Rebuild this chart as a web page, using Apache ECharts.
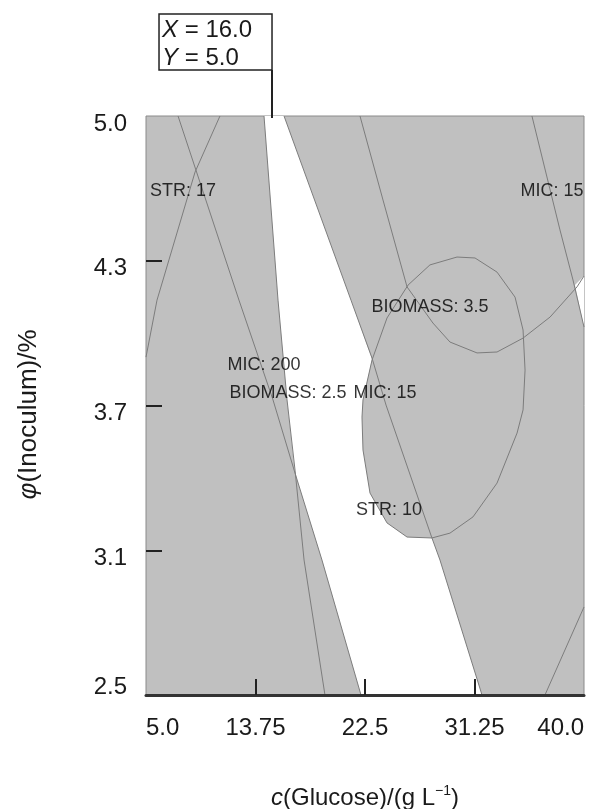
<!DOCTYPE html>
<html>
<head>
<meta charset="utf-8">
<script src="https://cdn.jsdelivr.net/npm/echarts@6/dist/echarts.min.js"></script>
<style>
  html, body { margin: 0; padding: 0; background: #fff; }
  #main { width: 599px; height: 809px; }
</style>
</head>
<body>
<div id="main"></div>
<script>
// 坐标轴刻度
const xTicks = [5, 13.75, 22.5, 31.25, 40];
const xTickLabels = ['5.0', '13.75', '22.5', '31.25', '40.0'];
const yTicks = [2.5, 3.125, 3.75, 4.375, 5];
const yTickLabels = ['2.5', '3.1', '3.7', '4.3', '5.0'];

// 等高线 [glucose, inoculum]
const str17 = [[10.91, 5.0], [8.92, 4.758], [5.88, 4.205], [5.0, 3.959]];
const mic200 = [[7.56, 5.0], [12.43, 4.205], [15.15, 3.774], [16.91, 3.458], [19.06, 3.083], [22.18, 2.5]];
const biomass25 = [[14.43, 5.0], [15.55, 4.205], [16.27, 3.774], [16.91, 3.471], [17.63, 3.083], [19.30, 2.5]];
const mic15 = [[16.03, 5.0], [21.38, 4.205], [23.06, 3.955], [24.18, 3.752], [27.85, 3.178], [28.49, 3.083], [31.85, 2.5]];
const str10 = [[25.94, 4.270], [27.69, 4.357], [29.85, 4.391], [31.29, 4.387], [33.05, 4.326], [34.49, 4.218],
  [35.13, 4.076], [35.29, 3.903], [35.13, 3.731], [34.65, 3.631], [33.05, 3.415], [31.13, 3.269], [29.29, 3.199],
  [27.85, 3.178], [25.86, 3.182], [24.26, 3.243], [22.90, 3.372], [22.34, 3.558], [22.26, 3.700], [22.34, 3.774],
  [23.06, 3.946], [24.26, 4.128], [25.94, 4.270]];
const biomass35 = [[22.10, 5.0], [23.94, 4.637], [25.86, 4.262], [27.93, 4.106], [29.29, 4.024], [31.45, 3.977],
  [33.05, 3.981], [35.13, 4.041], [37.29, 4.132], [39.44, 4.262], [40.0, 4.309]];
const mic15Right = [[35.84, 5.0], [38.08, 4.508], [39.12, 4.292], [40.0, 4.089]];
const lowerRight = [[36.88, 2.5], [40.0, 2.880]];

// 白色可行区域
const feasibleMain = [[14.43, 5.0], [16.03, 5.0], [21.38, 4.205], [23.06, 3.950], [22.34, 3.774], [22.26, 3.700],
  [22.34, 3.558], [22.90, 3.372], [24.26, 3.243], [25.86, 3.182], [27.85, 3.178], [28.49, 3.083], [31.85, 2.5],
  [22.18, 2.5], [19.06, 3.083], [16.91, 3.458], [16.27, 3.774], [15.55, 4.205], [14.43, 5.0]];
const feasibleRight = [[39.28, 4.270], [40.0, 4.309], [40.0, 4.089]];

// 等高线标签
const contourLabels = [
  { name: 'STR: 17', value: [7.96, 4.676] },
  { name: 'MIC: 15', value: [37.44, 4.676] },
  { name: 'BIOMASS: 3.5', value: [27.69, 4.175] },
  { name: 'MIC: 200', value: [14.43, 3.925] },
  { name: 'BIOMASS: 2.5', value: [16.35, 3.804] },
  { name: 'MIC: 15', value: [24.10, 3.804] },
  { name: 'STR: 10', value: [24.42, 3.299] }
];

// 旗标
const flagAt = [15.07, 5.0];
const flagValues = ['16.0', '5.0'];

const contours = [str17, mic200, biomass25, mic15, str10, biomass35, mic15Right, lowerRight];
const regions = [feasibleMain, feasibleRight];

const chart = echarts.init(document.getElementById('main'));
const font = "'Liberation Sans', Arial, sans-serif";

const lineSeries = contours.map(pts => ({
  type: 'line',
  data: pts,
  showSymbol: false,
  symbol: 'none',
  silent: true,
  animation: false,
  z: 3,
  lineStyle: { color: '#7c7c7c', width: 1 }
}));

const option = {
  animation: false,
  grid: {
    left: 146, right: 15, top: 116, bottom: 114,
    outerBoundsMode: 'none', containLabel: false,
    show: true, backgroundColor: '#c0c0c0', borderColor: '#8a8a8a', borderWidth: 1
  },
  xAxis: {
    type: 'value', min: 5, max: 40, interval: 8.75, z: 10,
    name: '{i|c}(Glucose)/(g L{sup|\u22121})',
    nameLocation: 'middle', nameGap: 89,
    nameTextStyle: {
      fontFamily: font, fontSize: 24, color: '#1a1a1a', lineHeight: 28,
      rich: {
        i: { fontFamily: font, fontSize: 24, fontStyle: 'italic', color: '#1a1a1a', lineHeight: 28 },
        sup: { fontFamily: font, fontSize: 14, color: '#1a1a1a', verticalAlign: 'top', lineHeight: 14 }
      }
    },
    axisLine: { show: true, lineStyle: { color: '#333', width: 3 } },
    axisTick: { show: true, inside: true, length: 16, customValues: xTicks.slice(1, -1), lineStyle: { color: '#222', width: 2 } },
    axisLabel: {
      fontFamily: font, fontSize: 24, color: '#1a1a1a', margin: 21,
      alignMinLabel: 'left', alignMaxLabel: 'right',
      formatter: v => xTickLabels[xTicks.indexOf(v)] ?? ''
    },
    splitLine: { show: false }
  },
  yAxis: {
    type: 'value', min: 2.5, max: 5, interval: 0.625, z: 10,
    name: '{i|\u03c6}(Inoculum)/%',
    nameLocation: 'middle', nameGap: 104,
    nameTextStyle: {
      fontFamily: font, fontSize: 26, color: '#1a1a1a', padding: [0, 18, 0, 0],
      rich: { i: { fontFamily: font, fontSize: 26, fontStyle: 'italic', color: '#1a1a1a' } }
    },
    axisLine: { show: false },
    axisTick: { show: true, inside: true, length: 16, customValues: yTicks.slice(1, -1), lineStyle: { color: '#222', width: 2 } },
    axisLabel: {
      fontFamily: font, fontSize: 24, color: '#1a1a1a', margin: 19,
      verticalAlign: 'top', lineHeight: 16,
      verticalAlignMinLabel: 'bottom',
      formatter: v => yTickLabels[yTicks.indexOf(v)] ?? ''
    },
    splitLine: { show: false }
  },
  series: [
    {
      type: 'custom',
      silent: true,
      clip: true,
      z: 2,
      data: regions.map((r, i) => [i]),
      renderItem: (params, api) => ({
        type: 'polygon',
        shape: { points: regions[params.dataIndex].map(p => api.coord(p)) },
        style: { fill: '#ffffff', stroke: null }
      })
    },
    ...lineSeries,
    {
      type: 'scatter',
      data: contourLabels,
      symbolSize: 0,
      silent: true,
      z: 5,
      label: {
        show: true, position: 'inside', formatter: '{b}',
        fontFamily: font, fontSize: 18, color: '#000',
        textBorderWidth: 0, textBorderColor: 'transparent'
      }
    }
  ]
};

chart.setOption(option);

// 旗标 (X/Y 读数框)
const p = chart.convertToPixel({ gridIndex: 0 }, flagAt);
chart.setOption({
  graphic: [
    { type: 'line', shape: { x1: p[0], y1: p[1] - 46, x2: p[0], y2: p[1] + 2 }, style: { stroke: '#222', lineWidth: 2 }, z: 20 },
    { type: 'rect', shape: { x: p[0] - 113, y: p[1] - 102, width: 113, height: 56 }, style: { fill: '#fff', stroke: '#222', lineWidth: 1.5 }, z: 20 },
    {
      type: 'text', x: p[0] - 110, y: p[1] - 100, z: 21,
      style: {
        text: '{i|X} = ' + flagValues[0] + '\n{i|Y} = ' + flagValues[1],
        fontFamily: font, fontSize: 24, lineHeight: 28, fill: '#1a1a1a',
        rich: { i: { fontFamily: font, fontSize: 24, fontStyle: 'italic', lineHeight: 28, fill: '#1a1a1a' } }
      }
    }
  ]
});
</script>
</body>
</html>
